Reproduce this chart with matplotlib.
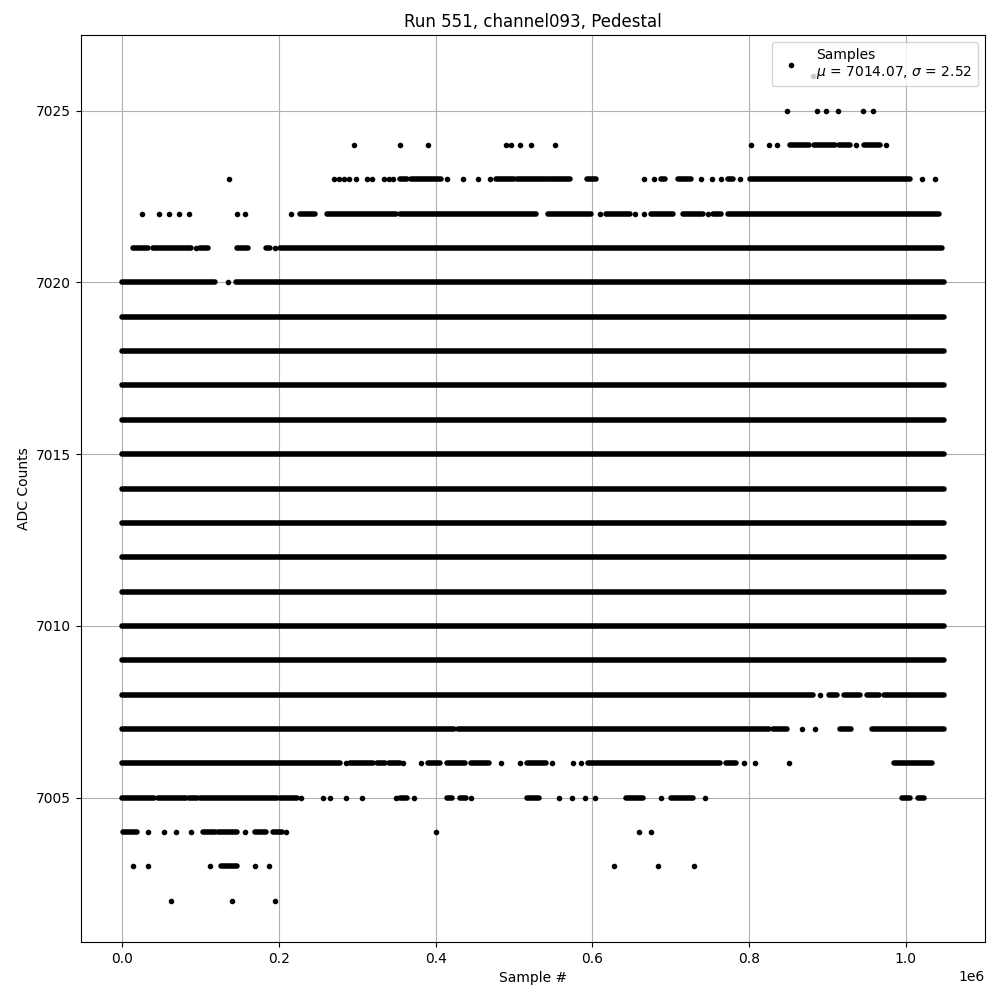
import matplotlib
matplotlib.use("Agg")
import matplotlib.pyplot as plt

TITLE = "Run 551, channel093, Pedestal"
X_LABEL = "Sample #"
Y_LABEL = "ADC Counts"
LEGEND_LABEL = "Samples\n$\\mu$ = 7014.07, $\\sigma$ = 2.52"
LAST_SAMPLE_K = 1048.575  # last sample index, thousands

# ADC levels occupied over the whole run
full_levels = [7009, 7010, 7011, 7012, 7013, 7014, 7015, 7016, 7017, 7018, 7019]

# Partially occupied levels: runs of densely packed samples (start, end), in thousands of samples
runs_7024 = [(852, 877), (883, 909), (915, 929), (947, 967)]
runs_7023 = [(354, 363), (369, 407), (477, 500), (504, 541), (544, 572), (593, 605),
             (688, 693), (709, 726), (773, 779), (801, 1005)]
runs_7022 = [(227, 246), (261, 350), (354, 528), (544, 598), (617, 648), (675, 703),
             (716, 741), (754, 764), (773, 1042)]
runs_7021 = [(14, 33), (39, 88), (100, 110), (147, 161), (183, 189), (202, 1046)]
runs_7020 = [(0, 119), (145, 1048.5)]
runs_7008 = [(0, 871), (874, 881), (902, 912), (921, 942), (950, 966), (972, 1048.5)]
runs_7007 = [(0, 424), (428, 826), (831, 849), (916, 930), (957, 1048.5)]
runs_7006 = [(0, 278), (291, 320), (325, 335), (340, 354), (390, 405), (415, 437),
             (445, 468), (516, 541), (595, 763), (770, 783), (985, 1034)]
runs_7005 = [(0, 41), (46, 81), (85, 96), (99, 198), (202, 223), (354, 363), (415, 421),
             (431, 439), (516, 532), (643, 665), (700, 728), (995, 1005), (1016, 1023)]
runs_7004 = [(1, 19), (103, 119), (123, 147), (170, 183), (193, 204)]
runs_7003 = [(126, 146)]

# Isolated samples, in thousands of samples
points_7026 = [881]
points_7025 = [849, 887, 898, 914, 945, 958]
points_7024 = [296, 355, 390, 490, 496, 508, 522, 552, 803, 825, 835, 937, 975]
points_7023 = [136, 270, 277, 283, 289, 299, 312, 319, 334, 340, 346, 415, 435, 454, 470,
               666, 679, 739, 753, 764, 788, 1020, 1037]
points_7022 = [25, 47, 60, 72, 85, 147, 157, 216, 610, 655, 666, 747]
points_7021 = [94, 195]
points_7020 = [135]
points_7008 = [891]
points_7007 = [867, 884]
points_7006 = [286, 358, 381, 483, 508, 548, 575, 585, 794, 807, 851]
points_7005 = [228, 256, 265, 286, 306, 350, 372, 445, 558, 574, 591, 604, 687, 744]
points_7004 = [33, 53, 69, 88, 157, 209, 400, 660, 675]
points_7003 = [14, 33, 112, 170, 188, 627, 684, 730]
points_7002 = [62, 140, 195]

runs = {
    7024: runs_7024, 7023: runs_7023, 7022: runs_7022, 7021: runs_7021, 7020: runs_7020,
    7008: runs_7008, 7007: runs_7007, 7006: runs_7006, 7005: runs_7005, 7004: runs_7004,
    7003: runs_7003,
}
for lvl in full_levels:
    runs[lvl] = [(0, LAST_SAMPLE_K)]

points = {
    7026: points_7026, 7025: points_7025, 7024: points_7024, 7023: points_7023,
    7022: points_7022, 7021: points_7021, 7020: points_7020, 7008: points_7008,
    7007: points_7007, 7006: points_7006, 7005: points_7005, 7004: points_7004,
    7003: points_7003, 7002: points_7002,
}

fig = plt.figure(figsize=(10, 10), dpi=100)
ax = fig.add_subplot(111)
fig.subplots_adjust(left=0.081, right=0.985, top=0.965, bottom=0.058)

for lvl, rr in runs.items():
    for a, b in rr:
        ax.plot([a * 1000, b * 1000], [lvl, lvl], color="black", lw=4.0,
                solid_capstyle="round")

px, py = [], []
for lvl, xs in points.items():
    for x in xs:
        px.append(x * 1000)
        py.append(lvl)
ax.plot(px, py, ".", color="black", label=LEGEND_LABEL)

ax.set_title(TITLE)
ax.set_xlabel(X_LABEL)
ax.set_ylabel(Y_LABEL)
ax.grid(True)
ax.legend(loc="upper right")

fig.savefig("out.png", dpi=100)
